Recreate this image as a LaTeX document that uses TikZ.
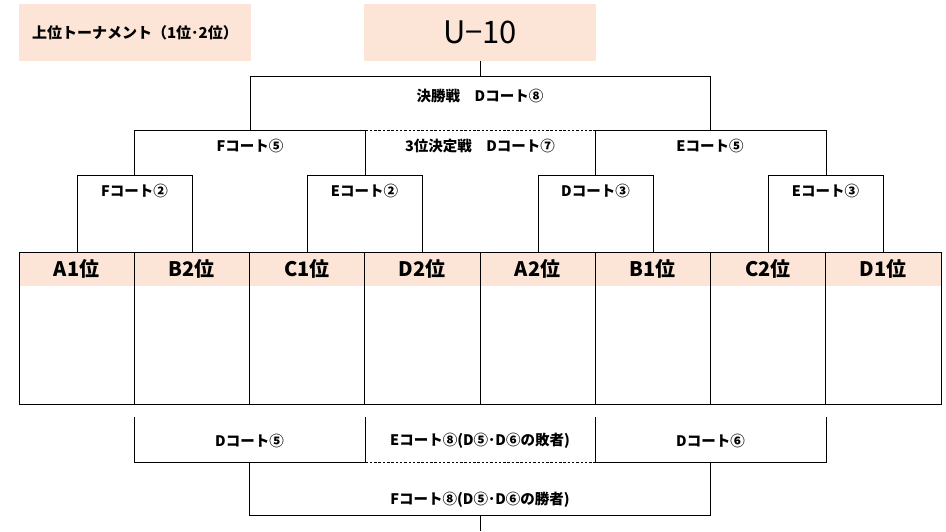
\documentclass[tikz,border=0pt]{standalone}
\usepackage{fontspec}
\setmainfont{Noto Sans CJK JP}
\definecolor{peach}{HTML}{FCE4D6}
\begin{document}
\begin{tikzpicture}[x=1pt,y=-1pt,
  lbl/.style={font=\fontsize{14.5}{16}\selectfont\bfseries, inner sep=0pt},
  hdr/.style={font=\fontsize{20}{22}\selectfont\bfseries, inner sep=0pt},
  brk/.style={draw=black, line width=0.9pt},
  dsh/.style={draw=black, line width=0.9pt, dash pattern=on 2.5pt off 1.8pt}]
\useasboundingbox (0,0) rectangle (946,531);
% title boxes
\fill[peach] (19,4) rectangle (251,61);
\node[lbl, font=\fontsize{15}{17}\selectfont\bfseries] (title) at (135,32.5) {上位トーナメント（1位･2位）};
\fill[peach] (364,4) rectangle (596,61);
\node[inner sep=0pt, font=\fontsize{31}{33}\selectfont] (u10) at (480,32.5) {U−10};
% table
\fill[peach] (19,252) rectangle (941,286);
\foreach \n/\t [count=\i from 0] in {a1/A1位,b2/B2位,c1/C1位,d2/D2位,a2/A2位,b1/B1位,c2/C2位,d1/D1位}{
  \node[hdr] (\n) at ({19+115.25*\i+57.6},269) {\t};
}
\draw[brk] (19,252) rectangle (941,404);
\foreach \i in {1,...,7}{ \draw[brk] ({19+115.25*\i},252) -- ({19+115.25*\i},404); }
% first round brackets
\coordinate (f2l) at (77,252); \coordinate (f2r) at (192,252);
\coordinate (e2l) at (307,252); \coordinate (e2r) at (422,252);
\coordinate (d3l) at (538,252); \coordinate (d3r) at (653,252);
\coordinate (e3l) at (768,252); \coordinate (e3r) at (883,252);
\draw[brk] (f2l) -- (77,175) -- (192,175) -- (f2r);
\draw[brk] (e2l) -- (307,175) -- (422,175) -- (e2r);
\draw[brk] (d3l) -- (538,175) -- (653,175) -- (d3r);
\draw[brk] (e3l) -- (768,175) -- (883,175) -- (e3r);
\node[lbl] (lf2) at (134.5,191) {Fコート②};
\node[lbl] (le2) at (364.5,191) {Eコート②};
\node[lbl] (ld3) at (595.5,191) {Dコート③};
\node[lbl] (le3) at (825.5,191) {Eコート③};
% second round
\draw[brk] (134,175) -- (134,130) -- (365.5,130) -- (365.5,175);
\draw[brk] (595.5,175) -- (595.5,130) -- (826,130) -- (826,175);
\draw[dsh] (365.5,130) -- (595.5,130);
\node[lbl] (lf5) at (250,146) {Fコート⑤};
\node[lbl] (l3rd) at (480,146) {3位決定戦　Dコート⑦};
\node[lbl] (le5) at (710,146) {Eコート⑤};
% final
\draw[brk] (250,130) -- (250,76.5) -- (710.5,76.5) -- (710.5,130);
\draw[brk] (u10.south |- 0,61) -- (480,76.5);
\node[lbl] (lfin) at (480,96) {決勝戦　Dコート⑧};
% lower bracket
\draw[brk] (134,417) -- (134,462) -- (365.5,462) -- (365.5,417);
\draw[brk] (595.5,417) -- (595.5,462) -- (826,462) -- (826,417);
\draw[dsh] (365.5,462) -- (595.5,462);
\draw[brk] (249.5,462) -- (249.5,515) -- (710.5,515) -- (710.5,462);
\draw[brk] (480,515) -- (480,531);
\node[lbl] (ld5) at (249.5,441) {Dコート⑤};
\node[lbl] (le8) at (480,441) {Eコート⑧(D⑤･D⑥の敗者)};
\node[lbl] (ld6) at (710.5,441) {Dコート⑥};
\node[lbl] (lf8) at (480,500) {Fコート⑧(D⑤･D⑥の勝者)};
\end{tikzpicture}
\end{document}
